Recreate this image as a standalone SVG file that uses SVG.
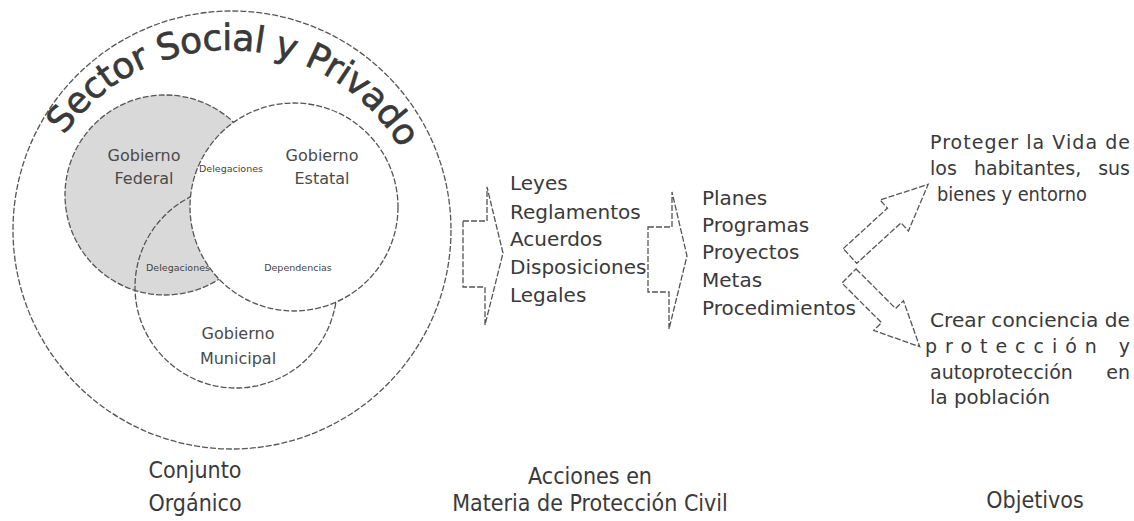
<svg xmlns="http://www.w3.org/2000/svg" width="1134" height="521" viewBox="0 0 1134 521">
<defs>
<style>
.ln{fill:none;stroke:#555;stroke-width:1.3;stroke-dasharray:6 2}
.t{font-family:"DejaVu Sans","Liberation Sans",sans-serif;fill:#3a3a3a}
.tc{font-family:"DejaVu Sans Condensed","DejaVu Sans","Liberation Sans",sans-serif;fill:#3a3a3a}
.col{font-size:20px}
.sm{font-size:9.5px;fill:#444}
.gob{font-size:16px;fill:#4a4a4a}
.obj{font-size:19px}
.lab{font-size:23px}
</style>
<linearGradient id="g2" x1="0" y1="0" x2="1" y2="0">
<stop offset="0" stop-color="#ffffff"/>
<stop offset="0.6" stop-color="#f4f4f4"/>
<stop offset="1" stop-color="#dedede"/>
</linearGradient>
<path id="arc" d="M 28 250 A 200 200 0 0 1 428 250"/>
</defs>
<rect width="1134" height="521" fill="#ffffff"/>

<g id="sector">
<circle cx="232" cy="230" r="219" class="ln" fill="#ffffff"/>
<text class="t" font-size="36" fill="#333" stroke="#333" stroke-width="0.6"><textPath href="#arc" startOffset="122" textLength="400" lengthAdjust="spacing">Sector Social y Privado</textPath></text>
</g>

<g id="federal">
<circle cx="165" cy="195" r="100" fill="#d9d9d9" stroke="#555" stroke-width="1.3" stroke-dasharray="6 2"/>
<text class="t gob" x="144" y="161" text-anchor="middle">Gobierno</text>
<text class="t gob" x="144" y="184" text-anchor="middle">Federal</text>
</g>

<g id="municipal">
<circle cx="236" cy="287" r="101" class="ln"/>
<text class="t gob" x="238" y="339" text-anchor="middle">Gobierno</text>
<text class="t gob" x="238" y="364" text-anchor="middle">Municipal</text>
<text class="t sm" x="178" y="271" text-anchor="middle">Delegaciones</text>
</g>

<g id="estatal">
<circle cx="294" cy="207" r="104" fill="#ffffff" stroke="#555" stroke-width="1.3" stroke-dasharray="6 2"/>
<text class="t gob" x="322" y="161" text-anchor="middle">Gobierno</text>
<text class="t gob" x="322" y="184" text-anchor="middle">Estatal</text>
<text class="t sm" x="231" y="172" text-anchor="middle">Delegaciones</text>
<text class="t sm" x="298" y="271" text-anchor="middle">Dependencias</text>
</g>

<g id="leyes">
<text class="t col" x="510" y="190">Leyes</text>
<text class="t col" x="510" y="219">Reglamentos</text>
<text class="t col" x="510" y="246">Acuerdos</text>
<text class="t col" x="510" y="274">Disposiciones</text>
<text class="t col" x="510" y="302">Legales</text>
</g>

<g id="planes">
<text class="t col" x="702" y="205">Planes</text>
<text class="t col" x="702" y="232">Programas</text>
<text class="t col" x="702" y="259">Proyectos</text>
<text class="t col" x="702" y="287">Metas</text>
<text class="t col" x="702" y="315">Procedimientos</text>
</g>

<g id="objetivo1">
<text class="t obj" x="930" y="149" textLength="200" lengthAdjust="spacing">Proteger la Vida de</text>
<text class="t obj" x="930" y="175">los</text>
<text class="t obj" x="974" y="175">habitantes,</text>
<text class="t obj" x="1130" y="175" text-anchor="end">sus</text>
<text class="t obj" x="937" y="201" textLength="150" lengthAdjust="spacingAndGlyphs">bienes y entorno</text>
</g>

<g id="objetivo2">
<text class="t obj" x="930" y="327" textLength="200" lengthAdjust="spacingAndGlyphs">Crear conciencia de</text>
<text class="t obj" x="925" y="353" textLength="205" lengthAdjust="spacing">protección y</text>
<text class="t obj" x="930" y="379">autoprotección</text>
<text class="t obj" x="1130" y="379" text-anchor="end">en</text>
<text class="t obj" x="930" y="404" textLength="120" lengthAdjust="spacingAndGlyphs">la población</text>
</g>

<g id="connectors">
<polygon class="ln" fill="#ffffff" points="463,221 487,221 487,187 503,253 485,325 485,287 463,287"/>
<polygon class="ln" fill="url(#g2)" points="648,227 672,227 672,192 687,256 669,329 669,292 648,292"/>
<polygon class="ln" fill="#ffffff" transform="translate(850,256) rotate(-42.5)" points="0,-10 60,-10 60,-21 106,0 60,21 60,10 0,10"/>
<polygon class="ln" fill="#ffffff" transform="translate(849,276) rotate(45)" points="0,-10 56,-10 56,-21 100,0 56,21 56,10 0,10"/>
</g>

<g id="labels">
<text class="tc lab" x="195" y="478" text-anchor="middle">Conjunto</text>
<text class="tc lab" x="195" y="511" text-anchor="middle">Orgánico</text>
<text class="tc lab" x="590" y="484" text-anchor="middle">Acciones en</text>
<text class="tc lab" x="590" y="511" text-anchor="middle">Materia de Protección Civil</text>
<text class="tc lab" x="1035" y="508" text-anchor="middle">Objetivos</text>
</g>
</svg>
